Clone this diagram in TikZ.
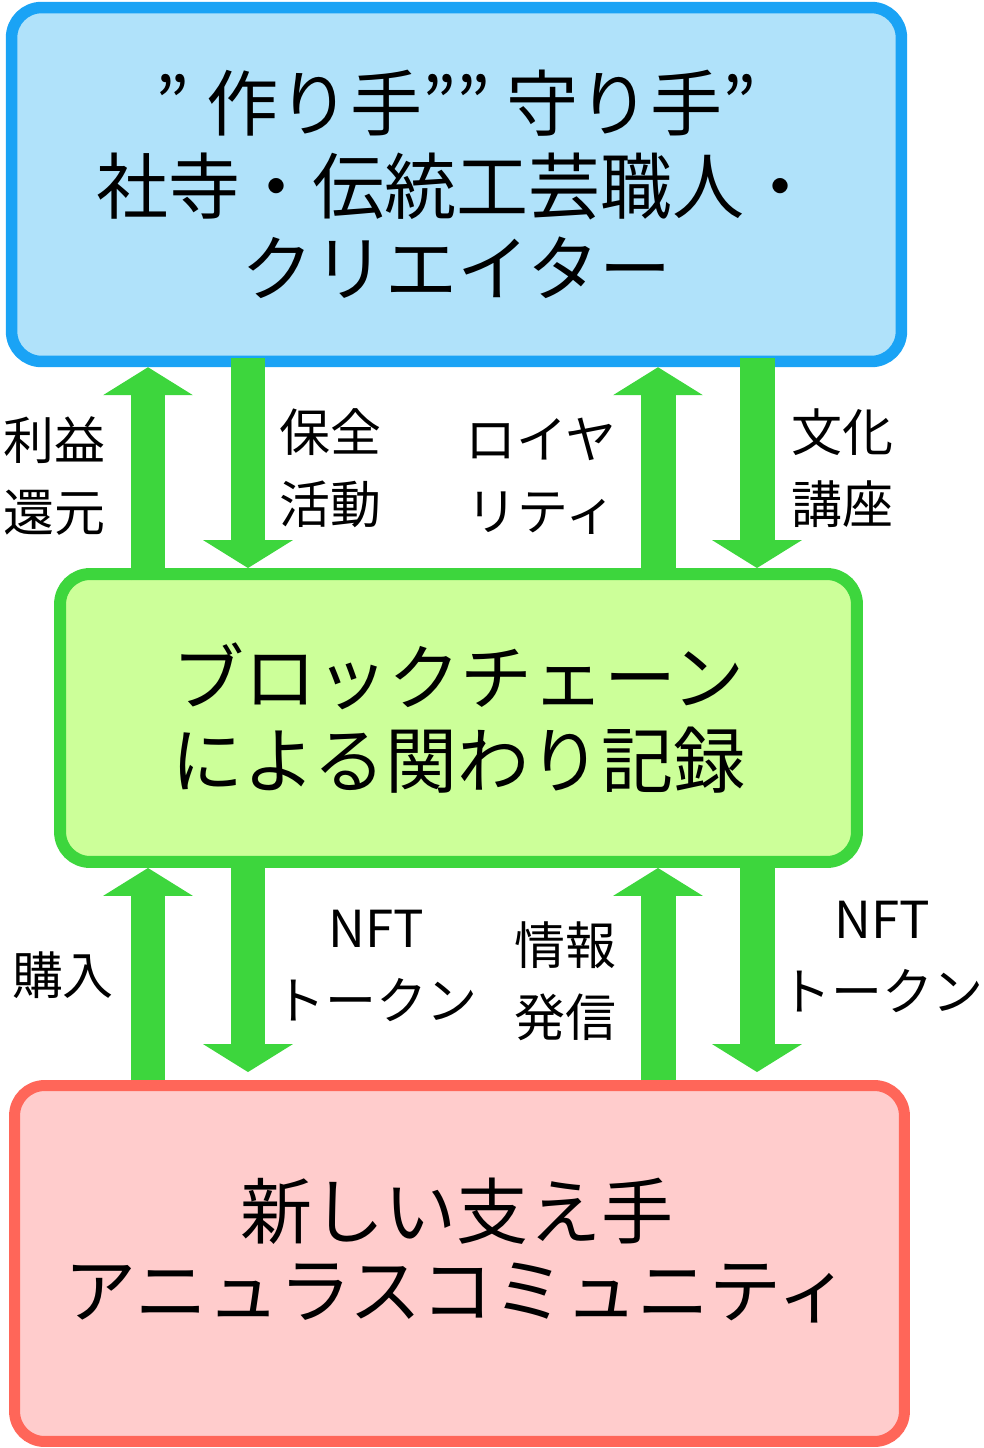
\documentclass[tikz,border=0pt]{standalone}
\usepackage{fontspec}
\setmainfont{Noto Sans CJK JP}
\usetikzlibrary{arrows.meta}

\begin{document}
\begin{tikzpicture}[x=0.02cm, y=-0.02cm,
  box/.style={draw, rounded corners=0.6cm, align=center, font=\fontsize{41pt}{47pt}\selectfont},
  boxtext/.style={align=center, font=\fontsize{41pt}{45pt}\selectfont},
  lbl/.style={align=center, font=\fontsize{29pt}{41pt}\selectfont},
  bigarrow/.style={draw=arrowgreen, line width=0.7cm, -{Triangle[width=1.8cm, length=0.56cm, line width=0pt]}}
]

% Define colors
\definecolor{topfill}{RGB}{176, 226, 250}
\definecolor{topline}{RGB}{26, 163, 245}
\definecolor{midfill}{RGB}{204, 255, 153}
\definecolor{midline}{RGB}{61, 214, 61}
\definecolor{botfill}{RGB}{255, 204, 204}
\definecolor{botline}{RGB}{255, 102, 89}
\definecolor{arrowgreen}{RGB}{61, 214, 61}

\useasboundingbox (0,0) rectangle (984,1448);

% Draw the boxes
\node[box, draw=topline, fill=topfill, line width=0.23cm, minimum width=17.8cm, minimum height=7.08cm] (makers) at (456.5,184.5) {” 作り手”” 守り手”\\社寺・伝統工芸職人・\\クリエイター};

\node[box, draw=midline, fill=midfill, line width=0.24cm, minimum width=15.94cm, minimum height=5.76cm] (chain) at (458.5,718) {ブロックチェーン\\による関わり記録};

\node[box, draw=botline, fill=botfill, line width=0.22cm, minimum width=17.8cm, minimum height=7.12cm] (community) at (459.5,1263.5) {};
\node[boxtext] (communitytext) at (457,1251) {新しい支え手\\アニュラスコミュニティ};

% Arrow columns
\coordinate (colA) at (148,0);
\coordinate (colB) at (248,0);
\coordinate (colC) at (658,0);
\coordinate (colD) at (757,0);

% Draw the arrows between makers and chain
\draw[bigarrow, shorten <=-0.24cm] (colA |- chain.north) -- (colA |- makers.south);
\draw[bigarrow, shorten <=-0.18cm] (colB |- makers.south) -- (colB |- chain.north);
\draw[bigarrow, shorten <=-0.24cm] (colC |- chain.north) -- (colC |- makers.south);
\draw[bigarrow, shorten <=-0.18cm] (colD |- makers.south) -- (colD |- chain.north);

% Draw the arrows between chain and community
\draw[bigarrow] (colA |- community.north) -- (colA |- chain.south);
\draw[bigarrow, shorten >=0.16cm] (colB |- chain.south) -- (colB |- community.north);
\draw[bigarrow] (colC |- community.north) -- (colC |- chain.south);
\draw[bigarrow, shorten >=0.16cm] (colD |- chain.south) -- (colD |- community.north);

% Labels
\node[lbl] (profit) at (54,476) {利益\\還元};
\node[lbl] (preserve) at (330,468) {保全\\活動};
\node[lbl] (royalty) at (541,476) {ロイヤ\\リティ};
\node[lbl] (lecture) at (842,468) {文化\\講座};

\node[lbl] (purchase) at (63,975) {購入};
\node[lbl] (nftleft) at (376,966) {NFT\\トークン};
\node[lbl] (info) at (565,981) {情報\\発信};
\node[lbl] (nftright) at (882,957) {NFT\\トークン};

\end{tikzpicture}
\end{document}
